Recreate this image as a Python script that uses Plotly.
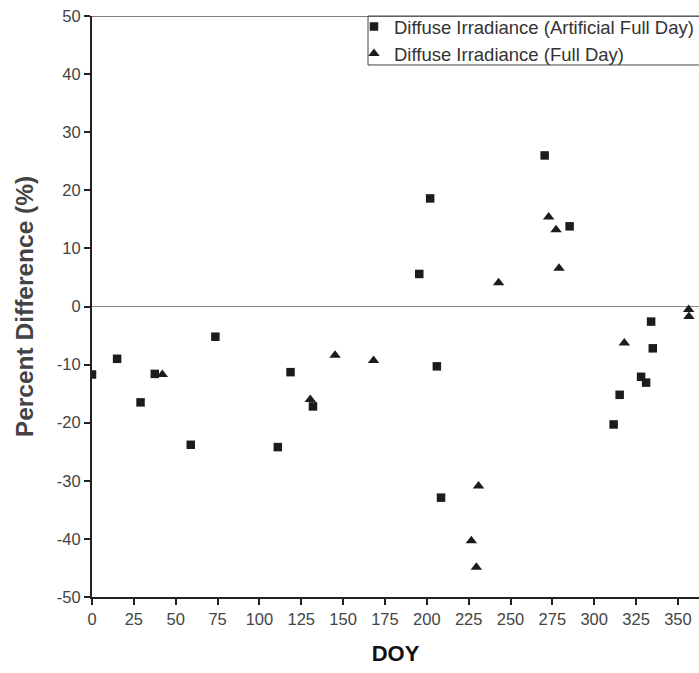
import plotly.graph_objects as go

# Diffuse Irradiance (Artificial Full Day) - squares
sq_doy = [0, 15, 29, 37.5, 59, 73.7, 111, 118.6, 132, 195.5, 202, 206, 208.5, 270.4, 285.3, 311.6, 315.2, 328, 331, 334, 335]
sq_pct = [-11.7, -9.0, -16.5, -11.6, -23.8, -5.2, -24.2, -11.3, -17.2, 5.6, 18.6, -10.3, -32.9, 26.0, 13.8, -20.3, -15.2, -12.1, -13.1, -2.6, -7.2]

# Diffuse Irradiance (Full Day) - triangles
tr_doy = [42, 130.4, 145.2, 168.2, 226.6, 229.6, 230.9, 242.9, 272.8, 277.2, 279, 318, 356.4, 356.6]
tr_pct = [-11.7, -16.0, -8.4, -9.3, -40.3, -44.9, -30.9, 4.1, 15.4, 13.2, 6.6, -6.3, -0.5, -1.7]

x_ticks = [0, 25, 50, 75, 100, 125, 150, 175, 200, 225, 250, 275, 300, 325, 350]
y_ticks = [-50, -40, -30, -20, -10, 0, 10, 20, 30, 40, 50]

FONT = "Liberation Sans, Arial, sans-serif"

fig = go.Figure()
fig.add_trace(go.Scatter(
    x=sq_doy, y=sq_pct, mode="markers",
    name="Diffuse Irradiance (Artificial Full Day)",
    marker=dict(symbol="square", size=8.5, color="#1c1c1c"),
))
fig.add_trace(go.Scatter(
    x=tr_doy, y=tr_pct, mode="markers",
    name="Diffuse Irradiance (Full Day)",
    marker=dict(symbol="triangle-up", size=10, color="#1c1c1c"),
))

# top border line at y = 50
fig.add_shape(type="line", xref="paper", yref="y", x0=0, x1=1, y0=50, y1=50,
              line=dict(color="#555555", width=1.5))
# legend box
fig.add_shape(type="rect", xref="paper", yref="paper",
              x0=0.4547, x1=1.02, y0=0.9157, y1=1.0,
              line=dict(color="#444444", width=1), fillcolor="rgba(0,0,0,0)", layer="above")

fig.update_layout(
    width=699, height=673,
    margin=dict(l=92, r=0, t=16, b=76),
    paper_bgcolor="white", plot_bgcolor="white",
    font=dict(family=FONT, color="#444444"),
    showlegend=True,
    legend=dict(
        x=0.4316, y=1.014, xanchor="left", yanchor="top",
        borderwidth=0, bgcolor="rgba(0,0,0,0)",
        font=dict(size=18.5, color="#333333", family=FONT),
        tracegroupgap=0, itemwidth=30,
    ),
    xaxis=dict(
        range=[0, 362.6], tickvals=x_ticks, ticktext=[str(v) for v in x_ticks],
        showgrid=False, zeroline=False,
        showline=True, linecolor="#222222", linewidth=2,
        ticks="outside", ticklen=6, tickwidth=2, tickcolor="#222222",
        tickfont=dict(size=16.5, color="#444444", family=FONT),
        title=dict(text="<b>DOY</b>", font=dict(size=22, color="#111111", family=FONT), standoff=19),
    ),
    yaxis=dict(
        range=[-50, 50], tickvals=y_ticks, ticktext=[str(v) for v in y_ticks],
        showgrid=False,
        zeroline=True, zerolinecolor="#888888", zerolinewidth=1,
        showline=True, linecolor="#222222", linewidth=2,
        ticks="outside", ticklen=6, tickwidth=2, tickcolor="#222222",
        tickfont=dict(size=16.5, color="#444444", family=FONT),
        title=dict(text="<b>Percent Difference (%)</b>", font=dict(size=24.5, color="#444444", family=FONT), standoff=16),
    ),
)

fig.write_html("out.html")
